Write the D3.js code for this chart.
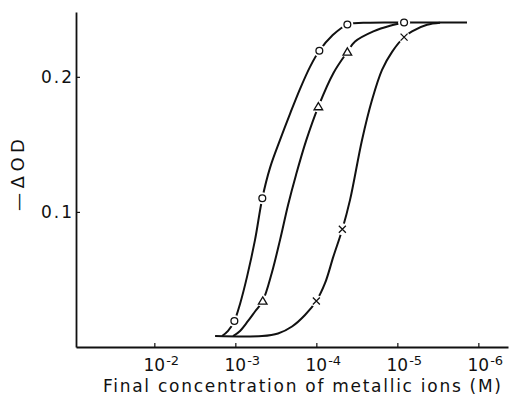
<!DOCTYPE html>
<html>
<head>
<meta charset="utf-8">
<script src="https://cdn.jsdelivr.net/npm/d3@7"></script>
<style>
  html, body { margin: 0; padding: 0; background: #fff; }
  svg { display: block; }
  text { font-family: "DejaVu Sans", sans-serif; fill: #111; }
</style>
</head>
<body>
<svg id="chart" width="509" height="404"></svg>
<script>
// x values are exponents n of the concentration 10^-n (M); y values are -ΔOD
const xTicks = [2, 3, 4, 5, 6];
const xTickLabels = ["10", "10", "10", "10", "10"];
const xTickExps = ["-2", "-3", "-4", "-5", "-6"];
const yTicks = [0.1, 0.2];
const xTitle = "Final concentration of metallic ions (M)";
const yTitle = "\u2014\u0394OD";

// traced curves [exponent, -ΔOD]
const circleCurve = [[2.836,0.0081],[2.910,0.0119],[2.988,0.0193],[3.058,0.0319],[3.144,0.0519],[3.243,0.0793],[3.333,0.1101],[3.428,0.1326],[3.552,0.1533],[3.675,0.1726],[3.799,0.1911],[3.922,0.2074],[4.037,0.2193],[4.194,0.2304],[4.383,0.2387],[4.663,0.2401],[5.083,0.2402],[5.860,0.2402]];
const triangleCurve = [[2.972,0.0081],[3.058,0.0119],[3.157,0.0193],[3.243,0.0263],[3.338,0.0341],[3.449,0.0546],[3.552,0.0793],[3.651,0.1052],[3.749,0.1274],[3.873,0.1526],[4.025,0.1780],[4.210,0.2027],[4.383,0.2185],[4.478,0.2261],[4.704,0.2336],[4.910,0.2378],[5.083,0.2400]];
const crossCurve = [[2.750,0.0081],[3.330,0.0081],[3.527,0.0100],[3.700,0.0152],[3.860,0.0237],[4.000,0.0341],[4.107,0.0472],[4.210,0.0669],[4.321,0.0872],[4.416,0.1089],[4.564,0.1533],[4.688,0.1830],[4.811,0.2052],[4.935,0.2185],[5.083,0.2294],[5.181,0.2337],[5.367,0.2385],[5.527,0.2400]];

// measured points
const circlePts = [[2.988,0.0193],[3.333,0.1101],[4.037,0.2193],[4.383,0.2387],[5.083,0.2402]];
const trianglePts = [[3.338,0.0341],[4.025,0.1780],[4.383,0.2185]];
const crossPts = [[4.000,0.0341],[4.321,0.0872],[5.083,0.2294]];

const svg = d3.select("#chart");
svg.append("rect").attr("width", 509).attr("height", 404).attr("fill", "#fff");

const x = d3.scaleLinear().domain([1.033, 6.366]).range([76, 508]);
const y = d3.scaleLinear().domain([0, 0.248]).range([347, 12]);

// axes
const gx = svg.append("g").attr("transform", "translate(0,347)")
  .call(d3.axisBottom(x).tickValues(xTicks).tickSize(-4).tickSizeOuter(0).tickFormat(""));
const gy = svg.append("g").attr("transform", "translate(76,0)")
  .call(d3.axisLeft(y).tickValues(yTicks).tickSize(-4).tickSizeOuter(0).tickPadding(4).tickFormat(d3.format(".1f")));
[gx, gy].forEach(g => {
  g.select(".domain").attr("stroke", "#111").attr("stroke-width", 1.8);
  g.selectAll(".tick line").attr("stroke", "#111").attr("stroke-width", 1.2);
});
gy.selectAll(".tick text").attr("font-size", 17).attr("font-family", "DejaVu Sans").attr("fill", "#111")
  .attr("textLength", 31).attr("lengthAdjust", "spacing");

// x tick labels with superscripts
xTicks.forEach((t, i) => {
  const g = svg.append("g").attr("transform", `translate(${x(t)},371)`);
  const base = g.append("text").attr("text-anchor", "middle").attr("font-size", 17).text(xTickLabels[i]);
  const w = base.node().getComputedTextLength();
  g.append("text").attr("x", w / 2 + 1).attr("y", -6).attr("font-size", 13).text(xTickExps[i]);
});

// titles
svg.append("text").attr("x", 302).attr("y", 392).attr("text-anchor", "middle")
  .attr("font-size", 17).attr("textLength", 398).attr("lengthAdjust", "spacing").text(xTitle);
svg.append("text").attr("transform", "translate(24,175) rotate(-90)").attr("text-anchor", "middle")
  .attr("font-size", 18).attr("textLength", 72).attr("lengthAdjust", "spacing").text(yTitle);

// curves
const line = d3.line().x(d => x(d[0])).y(d => y(d[1])).curve(d3.curveCatmullRom.alpha(0.5));
[circleCurve, triangleCurve, crossCurve].forEach(c => {
  svg.append("path").attr("d", line(c)).attr("fill", "none").attr("stroke", "#111").attr("stroke-width", 2);
});

// halos (gaps) around markers
const allPts = circlePts.concat(trianglePts, crossPts);
svg.append("g").selectAll("circle").data(allPts).join("circle")
  .attr("cx", d => x(d[0])).attr("cy", d => y(d[1])).attr("r", 6).attr("fill", "#fff");

// markers
svg.append("g").selectAll("circle").data(circlePts).join("circle")
  .attr("cx", d => x(d[0])).attr("cy", d => y(d[1])).attr("r", 3.4)
  .attr("fill", "#fff").attr("stroke", "#111").attr("stroke-width", 1.3);
svg.append("g").selectAll("path").data(trianglePts).join("path")
  .attr("transform", d => `translate(${x(d[0])},${y(d[1])})`)
  .attr("d", "M0,-4L4.3,3.2L-4.3,3.2Z")
  .attr("fill", "#fff").attr("stroke", "#111").attr("stroke-width", 1.3);
svg.append("g").selectAll("path").data(crossPts).join("path")
  .attr("transform", d => `translate(${x(d[0])},${y(d[1])})`)
  .attr("d", "M-3.5,-3.5L3.5,3.5M3.5,-3.5L-3.5,3.5")
  .attr("fill", "none").attr("stroke", "#111").attr("stroke-width", 1.3);
</script>
</body>
</html>
